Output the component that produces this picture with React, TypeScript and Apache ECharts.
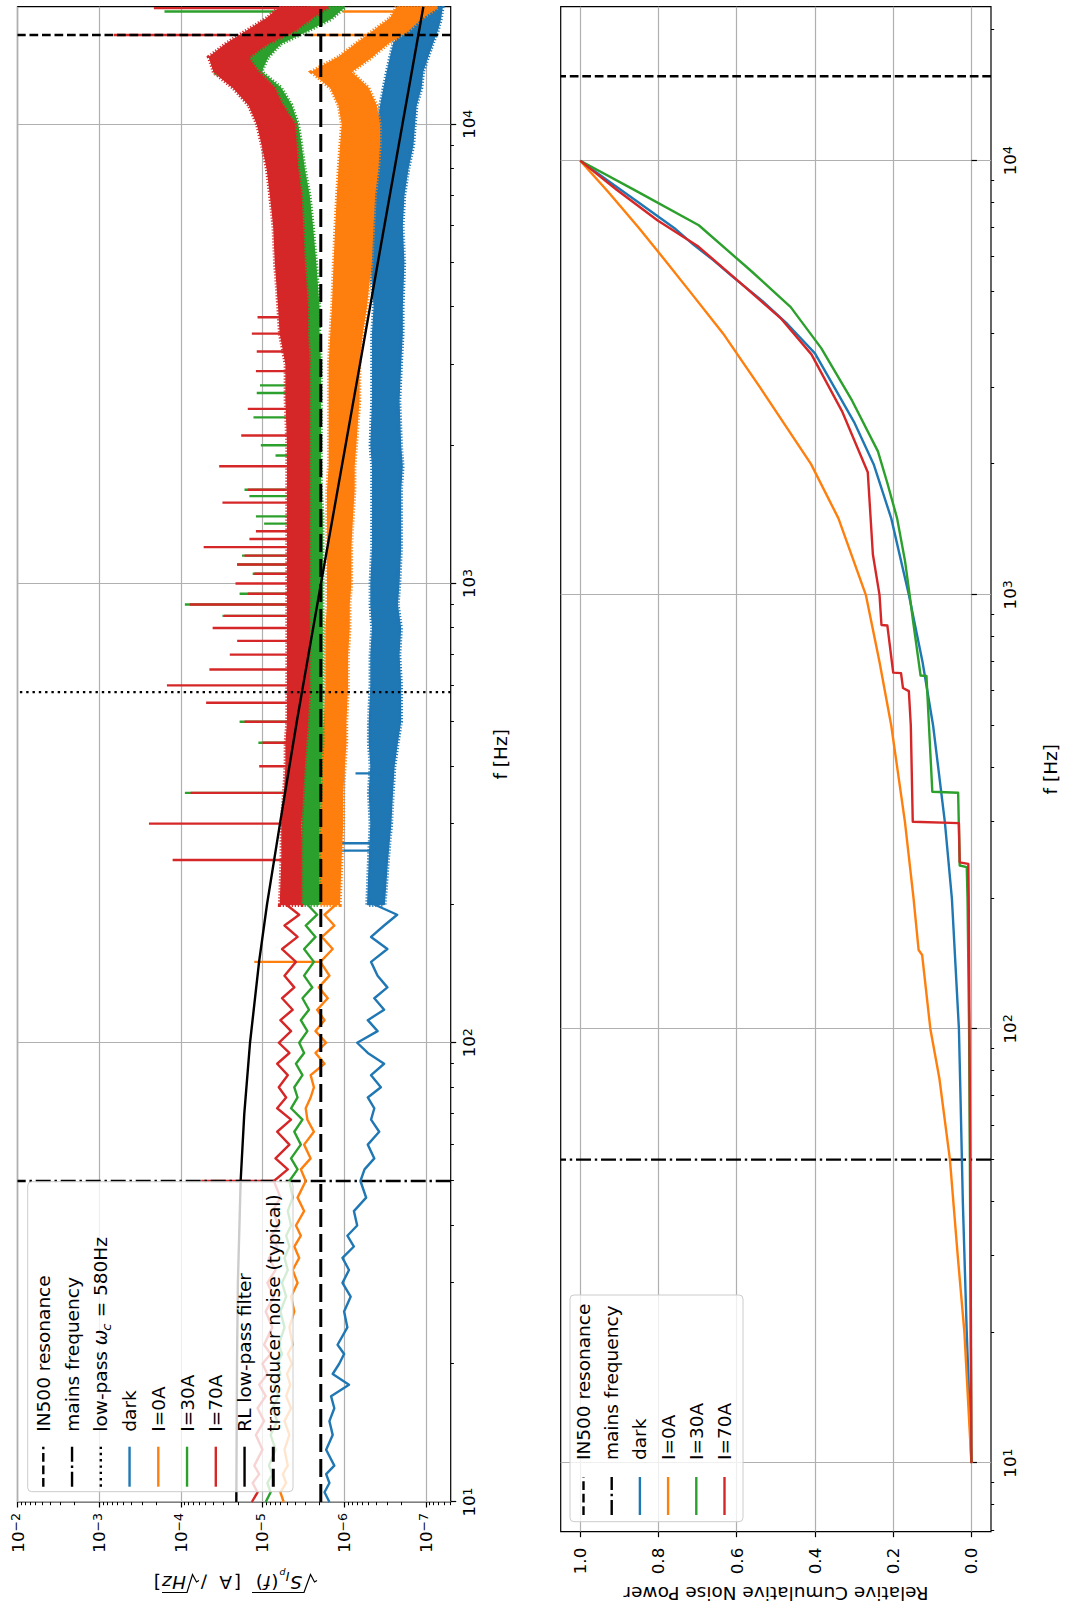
import React, { useEffect, useRef } from 'react';
import * as echarts from 'echarts';

const FONT = 'DejaVu Sans';
const TICK_FS = 16.7;
const LABEL_FS = 18.5;
const C_DARK = '#1f77b4';
const C_0A = '#ff7f0e';
const C_30A = '#2ca02c';
const C_70A = '#d62728';

// axis ranges
const PSD_MIN = 4.95e-8;
const PSD_MAX = 1e-2;
const F_MIN_PSD = 10;
const F_MAX_PSD = 18030;
const F_MIN_CUM = 6.95;
const F_MAX_CUM = 22630;
const CUM_MIN = -0.05;
const CUM_MAX = 1.05;

const freqTicks = [10, 100, 1000, 10000];
const psdTicks = [1e-7, 1e-6, 1e-5, 1e-4, 1e-3, 1e-2];
const cumTicks = [0, 0.2, 0.4, 0.6, 0.8, 1.0];

const F_IN500 = 15650;
const F_MAINS = 50;
const F_LOWPASS = 580;
const TRANSDUCER_NOISE = 1.93e-6;

// RL low-pass filter curve
const rlF = [10, 20, 30, 50, 70, 100, 150, 200, 300, 500, 700, 1000, 2000, 3000, 5000, 10000, 18030];
const rlV = [2.09e-5, 2.05e-5, 2.0e-5, 1.85e-5, 1.67e-5, 1.42e-5, 1.10e-5, 8.8e-6, 6.1e-6, 3.8e-6, 2.73e-6, 1.92e-6, 9.6e-7, 6.4e-7, 3.86e-7, 1.93e-7, 1.07e-7];

// low-frequency part of the spectra (Hz) and log10 of the PSD
const lowF = [10, 10.5, 11, 11.5, 12, 13, 14, 15, 16, 17, 18, 19, 20, 21, 22, 24, 26, 28, 30, 32, 34, 36, 38, 40, 43, 46, 50, 53, 56, 60, 64, 68, 72, 76, 80, 85, 90, 95, 100, 106, 112, 118, 125, 132, 140, 150, 160, 170, 180, 190, 200];
const darkLowLog = [-5.82, -5.76, -5.82, -5.78, -5.88, -5.78, -5.86, -5.82, -5.88, -5.84, -6.06, -5.86, -5.94, -6.00, -5.92, -6.04, -6.00, -6.08, -5.98, -6.06, -5.98, -6.12, -6.04, -6.16, -6.12, -6.27, -6.20, -6.25, -6.37, -6.29, -6.43, -6.33, -6.37, -6.29, -6.45, -6.33, -6.49, -6.29, -6.16, -6.41, -6.29, -6.49, -6.37, -6.53, -6.41, -6.33, -6.53, -6.33, -6.49, -6.65, -6.37];
const i0LowLog = [-5.26, -5.22, -5.29, -5.25, -5.31, -5.27, -5.33, -5.27, -5.35, -5.29, -5.34, -5.30, -5.36, -5.31, -5.37, -5.33, -5.39, -5.35, -5.43, -5.37, -5.45, -5.39, -5.47, -5.41, -5.51, -5.43, -5.53, -5.47, -5.59, -5.51, -5.63, -5.55, -5.53, -5.59, -5.63, -5.59, -5.76, -5.65, -5.78, -5.65, -5.76, -5.67, -5.80, -5.69, -5.82, -5.71, -5.86, -5.73, -5.88, -5.76, -5.90];
const i30LowLog = [-5.04, -5.10, -5.06, -5.12, -5.08, -5.16, -5.10, -5.18, -5.12, -5.20, -5.14, -5.22, -5.18, -5.24, -5.20, -5.27, -5.22, -5.29, -5.24, -5.31, -5.27, -5.33, -5.29, -5.35, -5.31, -5.37, -5.33, -5.43, -5.35, -5.47, -5.39, -5.49, -5.35, -5.43, -5.39, -5.49, -5.41, -5.51, -5.45, -5.55, -5.47, -5.57, -5.49, -5.61, -5.51, -5.63, -5.51, -5.65, -5.53, -5.67, -5.55];
const i70LowLog = [-4.87, -4.94, -4.88, -4.96, -4.90, -5.00, -4.92, -5.02, -4.94, -5.04, -4.96, -5.06, -5.00, -5.10, -5.02, -5.12, -5.04, -5.14, -5.06, -5.16, -5.08, -5.18, -5.10, -5.20, -5.12, -5.22, -5.14, -5.31, -5.16, -5.33, -5.18, -5.35, -5.18, -5.29, -5.20, -5.31, -5.18, -5.33, -5.20, -5.35, -5.22, -5.37, -5.24, -5.39, -5.27, -5.41, -5.24, -5.43, -5.27, -5.45, -5.29];

// dense part of the spectra: upper / lower envelope of the noise band (log10)
const bandF = [200, 250, 300, 350, 400, 450, 500, 600, 700, 800, 900, 1000, 1200, 1400, 1600, 1800, 2000, 2500, 3000, 3500, 4000, 5000, 6000, 7000, 8000, 9000, 10000, 11000, 12000, 13000, 14000, 15000, 16000, 17000, 18000];
const darkHi = [-6.29, -6.31, -6.33, -6.31, -6.33, -6.31, -6.31, -6.33, -6.33, -6.35, -6.33, -6.33, -6.35, -6.35, -6.35, -6.35, -6.33, -6.35, -6.35, -6.35, -6.37, -6.33, -6.31, -6.33, -6.35, -6.39, -6.41, -6.45, -6.49, -6.53, -6.57, -6.61, -6.71, -6.82, -6.94];
const darkLo = [-6.49, -6.53, -6.57, -6.59, -6.61, -6.65, -6.69, -6.69, -6.67, -6.69, -6.65, -6.67, -6.69, -6.69, -6.69, -6.71, -6.69, -6.67, -6.69, -6.71, -6.71, -6.73, -6.71, -6.73, -6.78, -6.84, -6.86, -6.88, -6.94, -6.96, -7.02, -7.08, -7.14, -7.18, -7.20];
const i0Hi = [-5.71, -5.71, -5.71, -5.73, -5.73, -5.73, -5.76, -5.78, -5.78, -5.78, -5.80, -5.80, -5.80, -5.80, -5.80, -5.82, -5.82, -5.82, -5.82, -5.84, -5.86, -5.88, -5.90, -5.92, -5.94, -5.96, -5.98, -5.94, -5.84, -5.61, -5.94, -6.16, -6.37, -6.57, -6.65];
const i0Lo = [-5.94, -5.96, -5.98, -5.98, -6.00, -6.02, -6.02, -6.04, -6.04, -6.06, -6.06, -6.08, -6.08, -6.10, -6.12, -6.12, -6.14, -6.18, -6.18, -6.22, -6.27, -6.33, -6.35, -6.37, -6.41, -6.43, -6.43, -6.39, -6.29, -6.08, -6.33, -6.53, -6.78, -6.94, -7.14];
const i30Hi = [-5.47, -5.47, -5.49, -5.49, -5.51, -5.51, -5.49, -5.49, -5.49, -5.49, -5.49, -5.49, -5.49, -5.49, -5.49, -5.49, -5.49, -5.51, -5.51, -5.51, -5.49, -5.47, -5.43, -5.39, -5.35, -5.29, -5.20, -5.06, -4.82, -4.41, -4.57, -4.90, -5.22, -5.47, -5.59];
const i30Lo = [-5.69, -5.69, -5.69, -5.71, -5.71, -5.73, -5.73, -5.73, -5.73, -5.73, -5.73, -5.73, -5.73, -5.73, -5.71, -5.71, -5.71, -5.71, -5.71, -5.69, -5.69, -5.65, -5.61, -5.57, -5.51, -5.47, -5.43, -5.35, -5.22, -4.98, -5.06, -5.22, -5.55, -5.84, -6.00];
const i70Hi = [-5.22, -5.24, -5.24, -5.27, -5.29, -5.29, -5.31, -5.31, -5.31, -5.31, -5.31, -5.31, -5.31, -5.31, -5.31, -5.31, -5.31, -5.29, -5.29, -5.22, -5.20, -5.16, -5.14, -5.10, -5.06, -5.00, -4.94, -4.84, -4.65, -4.41, -4.35, -4.57, -4.82, -5.06, -5.22];
const i70Lo = [-5.47, -5.47, -5.47, -5.49, -5.51, -5.53, -5.55, -5.57, -5.57, -5.57, -5.57, -5.57, -5.57, -5.57, -5.57, -5.57, -5.57, -5.57, -5.57, -5.55, -5.55, -5.51, -5.49, -5.47, -5.43, -5.41, -5.39, -5.24, -5.14, -4.94, -4.82, -5.06, -5.39, -5.59, -5.80];

// narrow lines (mains harmonics etc.): [f, log10 base, log10 peak]
const darkSpikes = [[262, -6.40, -5.96], [272, -6.40, -5.88], [386, -6.45, -6.14]];
const i0Spikes = [[150, -5.70, -4.90], [15650, -6.40, -5.59], [17600, -6.80, -5.98]];
const i30Spikes = [[350, -5.55, -4.05], [450, -5.60, -4.95], [500, -5.60, -4.72], [850, -5.60, -4.51], [900, -5.60, -4.05], [950, -5.60, -4.72], [1050, -5.60, -4.88], [1100, -5.60, -4.69], [1150, -5.60, -4.75], [1350, -5.60, -5.02], [1400, -5.60, -4.92], [1550, -5.60, -4.84], [1600, -5.60, -4.78], [1900, -5.60, -5.16], [2000, -5.60, -4.98], [2300, -5.60, -4.89], [2600, -5.60, -4.93], [2700, -5.60, -4.97], [17600, -5.80, -3.80]];
const i70Spikes = [[50, -5.14, -4.25], [250, -5.35, -3.90], [300, -5.35, -3.61], [350, -5.38, -4.12], [400, -5.40, -4.96], [450, -5.41, -5.00], [500, -5.43, -4.78], [550, -5.44, -4.31], [600, -5.44, -3.83], [650, -5.44, -4.35], [700, -5.44, -4.60], [750, -5.44, -4.69], [800, -5.44, -4.39], [850, -5.44, -4.53], [900, -5.44, -4.11], [950, -5.44, -4.82], [1000, -5.44, -4.67], [1050, -5.44, -4.90], [1100, -5.44, -4.69], [1150, -5.44, -4.78], [1200, -5.44, -4.28], [1250, -5.44, -4.84], [1300, -5.44, -4.92], [1500, -5.44, -4.51], [1600, -5.44, -4.82], [1800, -5.44, -4.47], [2100, -5.44, -4.74], [2400, -5.44, -4.82], [2900, -5.44, -4.92], [3200, -5.40, -4.93], [3500, -5.38, -4.87], [3800, -5.37, -4.94], [15650, -4.60, -3.18], [17900, -5.50, -3.67]];

// relative cumulative noise power: [f (Hz), value]
const cumDark = [[10, 0], [20, 0.012], [40, 0.022], [70, 0.028], [100, 0.032], [200, 0.05], [300, 0.068], [500, 0.098], [700, 0.125], [1000, 0.16], [1500, 0.205], [2000, 0.25], [2500, 0.30], [3000, 0.35], [3600, 0.40], [4200, 0.47], [4800, 0.54], [5400, 0.61], [5900, 0.66], [6400, 0.71], [7000, 0.76], [8000, 0.85], [9000, 0.93], [10000, 1.0]];
const cum0A = [[10, 0], [20, 0.018], [30, 0.035], [50, 0.055], [77, 0.082], [100, 0.105], [148, 0.126], [152, 0.135], [200, 0.148], [300, 0.17], [500, 0.205], [700, 0.235], [1000, 0.27], [1500, 0.34], [2000, 0.41], [3000, 0.54], [4000, 0.635], [5000, 0.72], [6000, 0.79], [7000, 0.85], [8500, 0.93], [10000, 1.0]];
const cum30A = [[10, 0], [50, 0.004], [100, 0.006], [200, 0.01], [236, 0.012], [238, 0.03], [350, 0.034], [352, 0.1], [650, 0.115], [652, 0.13], [880, 0.15], [1000, 0.158], [1200, 0.17], [1500, 0.19], [1810, 0.215], [2140, 0.239], [2800, 0.305], [3700, 0.384], [4600, 0.462], [5600, 0.566], [7100, 0.697], [8500, 0.855], [10000, 1.0]];
const cum70A = [[10, 0], [50, 0.003], [100, 0.005], [200, 0.007], [240, 0.008], [242, 0.03], [298, 0.032], [300, 0.15], [500, 0.155], [600, 0.16], [610, 0.175], [660, 0.18], [662, 0.2], [850, 0.215], [852, 0.23], [1000, 0.235], [1240, 0.252], [1915, 0.265], [2650, 0.331], [3580, 0.409], [4340, 0.488], [5250, 0.593], [6340, 0.698], [7280, 0.802], [8570, 0.907], [10000, 1.0]];

const DASH = [8.7, 3.8];
const DASHDOT = [15, 3.8, 2.4, 3.8];
const DOT = [2.4, 3.9];
const LONGDASH = [18, 7];
const LW = 2.4;

function minorLog(lo: number, hi: number) {
  const out: number[] = [];
  for (let e = -9; e <= 5; e++) {
    for (let k = 2; k <= 9; k++) {
      const v = k * Math.pow(10, e);
      if (v >= lo && v <= hi) out.push(v);
    }
  }
  return out;
}

function expLabel(v: number) {
  const e = Math.round(Math.log10(v));
  const s = e < 0 ? '\u2212' + (-e) : String(e);
  return '{b|10}{s|' + s + '}';
}

const richExp = {
  b: { fontFamily: FONT, fontSize: TICK_FS, color: '#000', lineHeight: 17, padding: [7, 0, 0, 0], verticalAlign: 'bottom' },
  s: { fontFamily: FONT, fontSize: 12.5, color: '#000', lineHeight: 13, verticalAlign: 'top' },
};

const tickStyle = { color: '#000', width: 1.2 };
const gridLineStyle = { color: '#b0b0b0', width: 1.2 };

function logAxis(gridIndex: number, min: number, max: number, ticks: number[], pos: string, margin: number) {
  return {
    gridIndex, type: 'log', min, max, position: pos,
    axisLine: { show: false },
    axisTick: { show: true, customValues: ticks, length: 5.5, lineStyle: tickStyle },
    axisLabel: { show: true, customValues: ticks, formatter: expLabel, rich: richExp, margin },
    splitLine: { show: true, lineStyle: gridLineStyle },
    minorTick: { show: false }, minorSplitLine: { show: false },
  };
}
function minorAxis(gridIndex: number, min: number, max: number, pos: string) {
  return {
    gridIndex, type: 'log', min, max, position: pos,
    axisLine: { show: false },
    axisTick: { show: true, customValues: minorLog(min, max), length: 3.2, lineStyle: { color: '#000', width: 1 } },
    axisLabel: { show: false },
    splitLine: { show: false },
  };
}

const P = (x: number) => Math.pow(10, x);

function lineSeries(data: any[], color: string, width: number, dash: any, xi: number, yi: number) {
  return {
    type: 'line', xAxisIndex: xi, yAxisIndex: yi, data, showSymbol: false, symbol: 'none', silent: true,
    lineStyle: { color, width, type: dash || 'solid', cap: 'butt', join: 'round' }, itemStyle: { color }, clip: true,
  };
}

function bandSeries(color: string, hi: number[], lo: number[]) {
  return {
    type: 'custom', xAxisIndex: 0, yAxisIndex: 0, clip: true, silent: true,
    data: [[bandF[0], P(hi[0])]],
    encode: { x: 0, y: 1 },
    renderItem: (_p: any, api: any) => {
      const pts: number[][] = [];
      for (let i = 0; i < bandF.length; i++) pts.push(api.coord([bandF[i], P(hi[i])]));
      for (let i = bandF.length - 1; i >= 0; i--) pts.push(api.coord([bandF[i], P(lo[i])]));
      return {
        type: 'group',
        children: [
          { type: 'polygon', shape: { points: pts }, style: { fill: color, stroke: color, lineWidth: 1.5, lineJoin: 'round' } },
          // frayed edge of the noise band
          { type: 'polygon', shape: { points: pts }, style: { fill: 'none', stroke: color, lineWidth: 5, lineDash: [1.2, 1.8] } },
        ],
      };
    },
  };
}

function spikeSeries(color: string, spikes: number[][]) {
  return {
    type: 'custom', xAxisIndex: 0, yAxisIndex: 0, clip: true, silent: true,
    data: spikes.map((s) => [s[0], P(s[1]), P(s[2])]),
    encode: { x: 0, y: [1, 2] },
    renderItem: (_p: any, api: any) => {
      const a = api.coord([api.value(0), api.value(1)]);
      const b = api.coord([api.value(0), api.value(2)]);
      return { type: 'line', shape: { x1: a[0], y1: a[1], x2: b[0], y2: b[1] }, style: { stroke: color, lineWidth: LW } };
    },
  };
}

function spectrum(color: string, lowLog: number[], hi: number[], lo: number[], spikes: number[][]) {
  return [
    lineSeries(lowF.map((f, i) => [f, P(lowLog[i])]), color, LW, null, 0, 0),
    bandSeries(color, hi, lo),
    spikeSeries(color, spikes),
  ];
}

function txt(x: number, y: number, text: string, extra: any = {}) {
  return {
    type: 'text', x, y, z: 101,
    style: { text, fill: '#000', fontFamily: FONT, fontSize: LABEL_FS, align: 'left', verticalAlign: 'middle', ...extra },
  };
}

function legend(box: number[], rows: any[], y0: number, dy: number, hx0: number, hx1: number, tx: number) {
  const els: any[] = [{
    type: 'rect', z: 100, shape: { x: box[0], y: box[1], width: box[2], height: box[3], r: 4 },
    style: { fill: 'rgba(255,255,255,0.8)', stroke: '#cccccc', lineWidth: 1 },
  }];
  rows.forEach((r, i) => {
    const y = y0 + i * dy;
    els.push({ type: 'line', z: 101, shape: { x1: hx0, y1: y, x2: hx1, y2: y }, style: { stroke: r.color, lineWidth: r.width || LW, lineDash: r.dash || null } });
    if (r.math) {
      els.push(txt(tx, y, 'low-pass '));
      els.push(txt(tx + 86.5, y, '\u03c9', { fontStyle: 'italic' }));
      els.push(txt(tx + 101, y, 'c', { fontStyle: 'italic', fontSize: 13 }));
      els[els.length - 1].y = y + 5.4;
      els.push(txt(tx + 108.5, y, ' = 580Hz'));
    } else {
      els.push(txt(tx, y, r.label));
    }
  });
  return els;
}

const psdLegendRows = [
  { label: 'IN500 resonance', color: '#000', dash: DASH },
  { label: 'mains frequency', color: '#000', dash: DASHDOT },
  { label: 'low-pass', color: '#000', dash: DOT, math: true },
  { label: 'dark', color: C_DARK },
  { label: 'I=0A', color: C_0A },
  { label: 'I=30A', color: C_30A },
  { label: 'I=70A', color: C_70A },
  { label: 'RL low-pass filter', color: '#000' },
  { label: 'transducer noise (typical)', color: '#000', dash: LONGDASH, width: 3 },
];
const cumLegendRows = [
  { label: 'IN500 resonance', color: '#000', dash: DASH },
  { label: 'mains frequency', color: '#000', dash: DASHDOT },
  { label: 'dark', color: C_DARK },
  { label: 'I=0A', color: C_0A },
  { label: 'I=30A', color: C_30A },
  { label: 'I=70A', color: C_70A },
];

function psdYLabel() {
  const it = { fontStyle: 'italic' };
  const kids: any[] = [
    { type: 'polyline', shape: { points: [[0, 1.5], [2.5, 0], [6.5, 7.5], [13, -10.5], [65, -10.5]] }, style: { stroke: '#000', lineWidth: 1.2, fill: 'none' } },
    txt(15, 0, 'S', it),
    txt(27.5, 5.4, 'I', { ...it, fontSize: 13 }),
    txt(31.5, 9, 'p', { ...it, fontSize: 9.5 }),
    txt(38.5, 0, '('),
    txt(46, 0, 'f', it),
    txt(54, 0, ')'),
    txt(76, 0, '['),
    txt(85, 0, 'A'),
    txt(110, 0, '/'),
    { type: 'polyline', shape: { points: [[118, 1.5], [120.5, 0], [124.5, 7.5], [130, -10.5], [155, -10.5]] }, style: { stroke: '#000', lineWidth: 1.2, fill: 'none' } },
    txt(131, 0, 'Hz', it),
    txt(156, 0, ']'),
  ];
  return { type: 'group', x: 28, y: 317, rotation: Math.PI / 2, children: kids };
}

function buildOption() {
  const gridPsd = { left: 108, top: 17.5, width: 1495.3, height: 433.2 };
  const gridCum = { left: 78.3, top: 560.7, width: 1525, height: 430.3 };
  const series: any[] = [
    lineSeries([[F_IN500, PSD_MIN], [F_IN500, PSD_MAX]], '#000', LW, DASH, 0, 0),
    lineSeries([[F_MAINS, PSD_MIN], [F_MAINS, PSD_MAX]], '#000', LW, DASHDOT, 0, 0),
    lineSeries([[F_LOWPASS, PSD_MIN], [F_LOWPASS, PSD_MAX]], '#000', LW, DOT, 0, 0),
    ...spectrum(C_DARK, darkLowLog, darkHi, darkLo, darkSpikes),
    ...spectrum(C_0A, i0LowLog, i0Hi, i0Lo, i0Spikes),
    ...spectrum(C_30A, i30LowLog, i30Hi, i30Lo, i30Spikes),
    ...spectrum(C_70A, i70LowLog, i70Hi, i70Lo, i70Spikes),
    lineSeries(rlF.map((f, i) => [f, rlV[i]]), '#000', LW, null, 0, 0),
    lineSeries([[F_MIN_PSD, TRANSDUCER_NOISE], [F_MAX_PSD, TRANSDUCER_NOISE]], '#000', 3, LONGDASH, 0, 0),
    lineSeries([[F_IN500, CUM_MIN], [F_IN500, CUM_MAX]], '#000', LW, DASH, 2, 2),
    lineSeries([[F_MAINS, CUM_MIN], [F_MAINS, CUM_MAX]], '#000', LW, DASHDOT, 2, 2),
    lineSeries(cumDark, C_DARK, LW, null, 2, 2),
    lineSeries(cum0A, C_0A, LW, null, 2, 2),
    lineSeries(cum30A, C_30A, LW, null, 2, 2),
    lineSeries(cum70A, C_70A, LW, null, 2, 2),
  ];
  return {
    animation: false,
    backgroundColor: '#fff',
    textStyle: { fontFamily: FONT },
    grid: [
      { ...gridPsd, show: true, borderColor: '#000', borderWidth: 1.2, backgroundColor: 'transparent', containLabel: false, outerBoundsMode: 'none' },
      { ...gridCum, show: true, borderColor: '#000', borderWidth: 1.2, backgroundColor: 'transparent', containLabel: false, outerBoundsMode: 'none' },
    ],
    xAxis: [
      logAxis(0, F_MIN_PSD, F_MAX_PSD, freqTicks, 'bottom', 10),
      minorAxis(0, F_MIN_PSD, F_MAX_PSD, 'bottom'),
      logAxis(1, F_MIN_CUM, F_MAX_CUM, freqTicks, 'bottom', 10),
      minorAxis(1, F_MIN_CUM, F_MAX_CUM, 'bottom'),
    ],
    yAxis: [
      logAxis(0, PSD_MIN, PSD_MAX, psdTicks, 'left', 11),
      minorAxis(0, PSD_MIN, PSD_MAX, 'left'),
      {
        gridIndex: 1, type: 'value', min: CUM_MIN, max: CUM_MAX, position: 'left',
        axisLine: { show: false },
        axisTick: { show: true, customValues: cumTicks, length: 5.5, lineStyle: tickStyle },
        axisLabel: { show: true, customValues: cumTicks, formatter: (v: number) => v.toFixed(1), fontFamily: FONT, fontSize: TICK_FS, color: '#000', margin: 16 },
        splitLine: { show: true, lineStyle: gridLineStyle },
      },
    ],
    series,
    graphic: [
      ...legend([118.3, 27.7, 310, 265.3], psdLegendRows, 43.3, 28.75, 123.3, 163.3, 178.3),
      ...legend([88.3, 570, 226.7, 173], cumLegendRows, 583.5, 28.2, 95, 133, 150),
      psdYLabel(),
      txt(855.7, 500, 'f [Hz]', { align: 'center' }),
      txt(840.8, 1050, 'f [Hz]', { align: 'center' }),
      { ...txt(16.5, 776, 'Relative Cumulative Noise Power', { align: 'center' }), rotation: Math.PI / 2 },
    ],
  };
}

export default function App() {
  const ref = useRef<HTMLDivElement>(null);
  useEffect(() => {
    const chart = echarts.init(ref.current as HTMLDivElement, undefined, { renderer: 'svg' });
    chart.setOption(buildOption() as any);
    return () => chart.dispose();
  }, []);
  return (
    <div style={{ position: 'fixed', left: 0, top: 0, width: 1068, height: 1610, overflow: 'hidden', background: '#fff' }}>
      <div style={{ position: 'absolute', left: 0, top: 0, width: 1610, height: 1068, transformOrigin: '0 0', transform: 'translate(0px, 1610px) rotate(-90deg)' }}>
        <div ref={ref} style={{ width: 1610, height: 1068 }} />
      </div>
    </div>
  );
}
